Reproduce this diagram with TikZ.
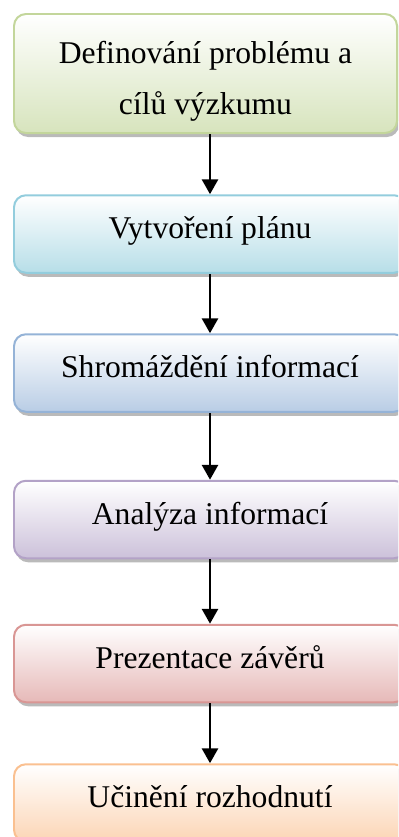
\documentclass[tikz,border=0pt]{standalone}
\usepackage{fontspec}
\setmainfont{Liberation Serif}
\usetikzlibrary{arrows.meta,shadows}
\definecolor{greenline}{HTML}{C3D69B}
\definecolor{greenfill}{HTML}{D7E4BD}
\definecolor{cyanline}{HTML}{93CDDD}
\definecolor{cyanfill}{HTML}{B7DEE8}
\definecolor{blueline}{HTML}{95B3D7}
\definecolor{bluefill}{HTML}{B9CDE5}
\definecolor{purpleline}{HTML}{B3A2C7}
\definecolor{purplefill}{HTML}{CCC1DA}
\definecolor{redline}{HTML}{D99694}
\definecolor{redfill}{HTML}{E6B9B8}
\definecolor{orangeline}{HTML}{FAC090}
\definecolor{orangefill}{HTML}{FCD5B5}
\begin{document}
\begin{tikzpicture}[
  stepbox/.style={draw,line width=0.04cm,rounded corners=0.24cm,
    minimum width=7.84cm,minimum height=1.55cm,inner sep=0pt,
    align=center,font=\fontsize{18}{29}\selectfont,top color=white,
    drop shadow={shadow xshift=0.04cm,shadow yshift=-0.08cm,
      opacity=0.45,fill=black!60}},
  oneline/.style={text height=0.44cm,text depth=0.26cm},
  flow/.style={line width=1.7pt,-{Triangle[length=0.3cm,width=0.32cm]}}]
%width=7.96cm
%height=16.74cm
\useasboundingbox (0,0) rectangle (7.96,-16.74);
\clip (0,0) rectangle (7.96,-16.74);
% coordinates
\coordinate (c1) at (4.11, -1.47);
\coordinate (c2) at (4.20, -4.68);
\coordinate (c3) at (4.20, -7.46);
\coordinate (c4) at (4.20,-10.39);
\coordinate (c5) at (4.20,-13.27);
\coordinate (c6) at (4.20,-16.06);
% boxes
\node[stepbox,minimum width=7.66cm,minimum height=2.38cm,
  draw=greenline,bottom color=greenfill] (goal) at (c1)
  {\rule{0pt}{0.74cm}Definování problému a\\cílů výzkumu};
\node[stepbox,oneline,draw=cyanline,bottom color=cyanfill]     (plan)     at (c2) {Vytvoření plánu};
\node[stepbox,oneline,draw=blueline,bottom color=bluefill]     (collect)  at (c3) {Shromáždění informací};
\node[stepbox,oneline,draw=purpleline,bottom color=purplefill] (analysis) at (c4) {Analýza informací};
\node[stepbox,oneline,draw=redline,bottom color=redfill]       (present)  at (c5) {Prezentace závěrů};
\node[stepbox,oneline,draw=orangeline,bottom color=orangefill] (decide)   at (c6) {Učinění rozhodnutí};
% arrows
\draw[flow] (goal.south -| plan.north) -- (plan.north);
\draw[flow] (plan)     -- (collect);
\draw[flow] (collect)  -- (analysis);
\draw[flow] (analysis) -- (present);
\draw[flow] (present)  -- (decide);
\end{tikzpicture}
\end{document}
